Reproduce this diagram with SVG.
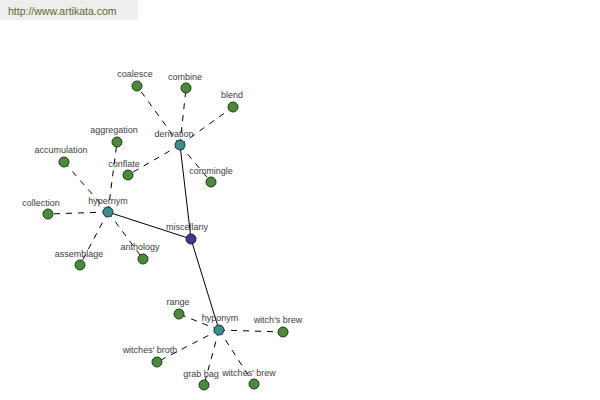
<svg xmlns="http://www.w3.org/2000/svg" width="600" height="400" viewBox="0 0 600 400">
<style>
.lbl{font-family:"Liberation Sans",Arial,sans-serif;font-size:9px;fill:#404040;text-anchor:middle}
.leaf{fill:#4a8a3c;stroke:#1e3a1a;stroke-width:1}
.hub{fill:#3c8c8c;stroke:#1a3a3a;stroke-width:1}
.root{fill:#3c3c8c;stroke:#1a1a3a;stroke-width:1}
.dash{stroke:#000;stroke-width:1;stroke-dasharray:6 6;fill:none}
.solid{stroke:#000;stroke-width:1;fill:none}
</style>
<rect x="0" y="0" width="138" height="20" fill="#eeeeee"/>
<text x="8" y="15" font-family="Liberation Sans,Arial,sans-serif" font-size="10.5" fill="#556b2f">http://www.artikata.com</text>
<g id="connectors">
<line class="solid" x1="191" y1="239" x2="180" y2="145"/>
<line class="solid" x1="191" y1="239" x2="108" y2="212"/>
<line class="solid" x1="191" y1="239" x2="219" y2="330"/>
<line class="dash" x1="180" y1="145" x2="137" y2="86"/>
<line class="dash" x1="180" y1="145" x2="186" y2="88"/>
<line class="dash" x1="180" y1="145" x2="233" y2="107"/>
<line class="dash" x1="180" y1="145" x2="128" y2="175"/>
<line class="dash" x1="180" y1="145" x2="211" y2="182"/>
<line class="dash" x1="108" y1="212" x2="117" y2="142"/>
<line class="dash" x1="108" y1="212" x2="64" y2="162"/>
<line class="dash" x1="108" y1="212" x2="48" y2="214"/>
<line class="dash" x1="108" y1="212" x2="80" y2="265"/>
<line class="dash" x1="108" y1="212" x2="143" y2="259"/>
<line class="dash" x1="219" y1="330" x2="179" y2="314"/>
<line class="dash" x1="219" y1="330" x2="283" y2="332"/>
<line class="dash" x1="219" y1="330" x2="157" y2="362"/>
<line class="dash" x1="219" y1="330" x2="204" y2="385"/>
<line class="dash" x1="219" y1="330" x2="254" y2="384"/>
</g>
<g id="coalesce"><circle class="leaf" cx="137" cy="86" r="5"/><text class="lbl" x="135" y="77">coalesce</text></g>
<g id="combine"><circle class="leaf" cx="186" cy="88" r="5"/><text class="lbl" x="185" y="80">combine</text></g>
<g id="blend"><circle class="leaf" cx="233" cy="107" r="5"/><text class="lbl" x="232" y="98">blend</text></g>
<g id="aggregation"><circle class="leaf" cx="117" cy="142" r="5"/><text class="lbl" x="114" y="133">aggregation</text></g>
<g id="accumulation"><circle class="leaf" cx="64" cy="162" r="5"/><text class="lbl" x="61" y="153">accumulation</text></g>
<g id="conflate"><circle class="leaf" cx="128" cy="175" r="5"/><text class="lbl" x="124" y="167">conflate</text></g>
<g id="commingle"><circle class="leaf" cx="211" cy="182" r="5"/><text class="lbl" x="211" y="174">commingle</text></g>
<g id="collection"><circle class="leaf" cx="48" cy="214" r="5"/><text class="lbl" x="41" y="206">collection</text></g>
<g id="assemblage"><circle class="leaf" cx="80" cy="265" r="5"/><text class="lbl" x="79" y="257">assemblage</text></g>
<g id="anthology"><circle class="leaf" cx="143" cy="259" r="5"/><text class="lbl" x="140" y="250">anthology</text></g>
<g id="range"><circle class="leaf" cx="179" cy="314" r="5"/><text class="lbl" x="178" y="305">range</text></g>
<g id="witchs-brew"><circle class="leaf" cx="283" cy="332" r="5"/><text class="lbl" x="278" y="323">witch's brew</text></g>
<g id="witches-broth"><circle class="leaf" cx="157" cy="362" r="5"/><text class="lbl" x="150" y="353">witches' broth</text></g>
<g id="grab-bag"><circle class="leaf" cx="204" cy="385" r="5"/><text class="lbl" x="201" y="377">grab bag</text></g>
<g id="witches-brew"><circle class="leaf" cx="254" cy="384" r="5"/><text class="lbl" x="249" y="376">witches' brew</text></g>
<g id="derivation"><circle class="hub" cx="180" cy="145" r="5"/><text class="lbl" x="174" y="137">derivation</text></g>
<g id="hypernym"><circle class="hub" cx="108" cy="212" r="5"/><text class="lbl" x="108" y="204">hypernym</text></g>
<g id="hyponym"><circle class="hub" cx="219" cy="330" r="5"/><text class="lbl" x="220" y="321">hyponym</text></g>
<g id="miscellany"><circle class="root" cx="191" cy="239" r="5"/><text class="lbl" x="187" y="230">miscellany</text></g>
</svg>
